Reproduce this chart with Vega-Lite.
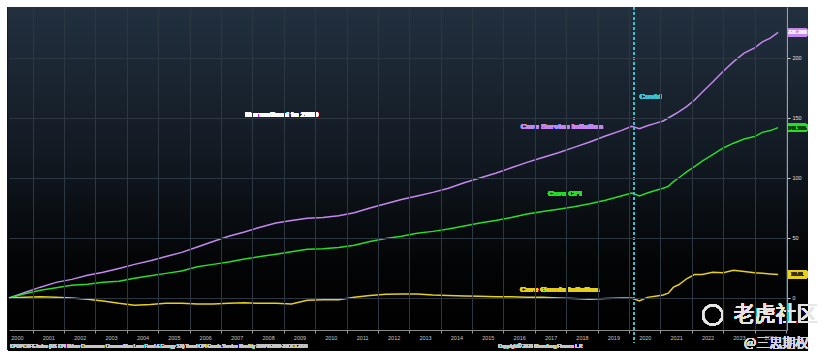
{
  "$schema": "https://vega.github.io/schema/vega-lite/v6.json",
  "width": 778,
  "height": 323,
  "autosize": "none",
  "padding": {"left": 9, "top": 7, "right": 43, "bottom": 34},
  "background": "white",
  "config": {"view": {"stroke": null}, "font": "Liberation Sans"},
  "data": {"values": [
    {"d": "2000-04-01", "svc": 0, "cpi": 0, "goods": 0},
    {"d": "2000-10-01", "svc": 4.5, "cpi": 3.5, "goods": 0.5},
    {"d": "2001-04-01", "svc": 9, "cpi": 6.5, "goods": 1},
    {"d": "2001-10-01", "svc": 13, "cpi": 8.5, "goods": 0.5},
    {"d": "2002-04-01", "svc": 15.5, "cpi": 10.5, "goods": 0},
    {"d": "2002-10-01", "svc": 19, "cpi": 11.5, "goods": -1},
    {"d": "2003-04-01", "svc": 21.5, "cpi": 13, "goods": -2.5},
    {"d": "2003-10-01", "svc": 24.5, "cpi": 14, "goods": -4.5},
    {"d": "2004-04-01", "svc": 28, "cpi": 16.5, "goods": -6},
    {"d": "2004-10-01", "svc": 31, "cpi": 18.5, "goods": -5.5},
    {"d": "2005-04-01", "svc": 34.5, "cpi": 20.5, "goods": -4.5},
    {"d": "2005-10-01", "svc": 38, "cpi": 22.5, "goods": -4.5},
    {"d": "2006-04-01", "svc": 42.5, "cpi": 26, "goods": -5},
    {"d": "2006-10-01", "svc": 47, "cpi": 28, "goods": -5},
    {"d": "2007-04-01", "svc": 51.5, "cpi": 30, "goods": -4.5},
    {"d": "2007-10-01", "svc": 55, "cpi": 32.5, "goods": -4},
    {"d": "2008-04-01", "svc": 59, "cpi": 34.5, "goods": -4.5},
    {"d": "2008-10-01", "svc": 62.5, "cpi": 36.5, "goods": -4.5},
    {"d": "2009-04-01", "svc": 64.5, "cpi": 38.5, "goods": -5},
    {"d": "2009-10-01", "svc": 66.5, "cpi": 40.5, "goods": -2},
    {"d": "2010-04-01", "svc": 67, "cpi": 41, "goods": -1.5},
    {"d": "2010-10-01", "svc": 68.5, "cpi": 42, "goods": -1.5},
    {"d": "2011-04-01", "svc": 71, "cpi": 44, "goods": 0.5},
    {"d": "2011-10-01", "svc": 75, "cpi": 47, "goods": 2},
    {"d": "2012-04-01", "svc": 78.5, "cpi": 49.5, "goods": 3},
    {"d": "2012-10-01", "svc": 82, "cpi": 51.5, "goods": 3.3},
    {"d": "2013-04-01", "svc": 85, "cpi": 54, "goods": 3.3},
    {"d": "2013-10-01", "svc": 88, "cpi": 55.5, "goods": 2.5},
    {"d": "2014-04-01", "svc": 91.5, "cpi": 57.5, "goods": 2},
    {"d": "2014-10-01", "svc": 96, "cpi": 60, "goods": 1.7},
    {"d": "2015-04-01", "svc": 100, "cpi": 62.5, "goods": 1.5},
    {"d": "2015-10-01", "svc": 104, "cpi": 64.5, "goods": 1},
    {"d": "2016-04-01", "svc": 108.5, "cpi": 67, "goods": 1},
    {"d": "2016-10-01", "svc": 113, "cpi": 70, "goods": 0.5},
    {"d": "2017-04-01", "svc": 117, "cpi": 72, "goods": 0.5},
    {"d": "2017-10-01", "svc": 121, "cpi": 74, "goods": 0},
    {"d": "2018-04-01", "svc": 125.5, "cpi": 76, "goods": -0.5},
    {"d": "2018-10-01", "svc": 130, "cpi": 78.5, "goods": -1},
    {"d": "2019-04-01", "svc": 135, "cpi": 81.5, "goods": -0.5},
    {"d": "2019-10-01", "svc": 139.5, "cpi": 85, "goods": 0},
    {"d": "2020-02-01", "svc": 143, "cpi": 87.5, "goods": 0},
    {"d": "2020-05-01", "svc": 141, "cpi": 85, "goods": -2.5},
    {"d": "2020-08-01", "svc": 143.5, "cpi": 87.5, "goods": 0.5},
    {"d": "2020-11-01", "svc": 145.5, "cpi": 89.5, "goods": 1.5},
    {"d": "2021-02-01", "svc": 147.5, "cpi": 91.5, "goods": 2.5},
    {"d": "2021-04-01", "svc": 150, "cpi": 93, "goods": 4},
    {"d": "2021-06-01", "svc": 152.5, "cpi": 97, "goods": 9},
    {"d": "2021-08-01", "svc": 155, "cpi": 100, "goods": 11},
    {"d": "2021-11-01", "svc": 159.5, "cpi": 105, "goods": 16},
    {"d": "2022-02-01", "svc": 165, "cpi": 109.5, "goods": 19.5},
    {"d": "2022-05-01", "svc": 171.5, "cpi": 114, "goods": 19.5},
    {"d": "2022-09-01", "svc": 180, "cpi": 119.5, "goods": 21.5},
    {"d": "2023-01-01", "svc": 189, "cpi": 125, "goods": 21},
    {"d": "2023-05-01", "svc": 197, "cpi": 129, "goods": 23},
    {"d": "2023-09-01", "svc": 204, "cpi": 132.5, "goods": 22},
    {"d": "2024-01-01", "svc": 208.5, "cpi": 134.5, "goods": 21},
    {"d": "2024-04-01", "svc": 213.5, "cpi": 138, "goods": 20.5},
    {"d": "2024-07-01", "svc": 216.5, "cpi": 139.5, "goods": 20},
    {"d": "2024-10-01", "svc": 221.288, "cpi": 141.966, "goods": 19.61}
  ]},
  "layer": [
    {
      "mark": {"type": "rect", "color": "#000000"},
      "encoding": {
        "x": {"datum": {"year": 2000, "month": 3, "date": 20, "utc": true}, "type": "temporal",
          "scale": {"type": "utc", "domain": [{"year": 2000, "month": 4, "date": 1, "utc": true}, {"year": 2025, "month": 1, "date": 12, "utc": true}]},
          "axis": {"orient": "bottom", "zindex": 1, "tickCount": {"interval": "year", "step": 1}, "labelExpr": "'' + (utcyear(datum.value) - 1)", "labelOffset": -15.7, "labelAlign": "center", "labelFontSize": 5.5, "labelColor": "#c8c8c8", "labelPadding": 2, "tickSize": 3, "tickColor": "#9a9a9a", "domainColor": "#8a8a8a", "grid": true, "gridColor": "#2c3742", "gridWidth": 1, "title": null, "labelOverlap": false, "labelFlush": false}},
        "x2": {"datum": {"year": 2025, "month": 9, "date": 10, "utc": true}},
        "y": {"datum": 242.5, "type": "quantitative",
          "scale": {"domain": [-26.7, 242.5], "nice": false, "zero": false},
          "axis": {"orient": "right", "zindex": 1, "values": [0, 50, 100, 150, 200], "labelFontSize": 5.5, "labelColor": "#e0e0e0", "labelPadding": 2, "tickSize": 3, "tickColor": "#cfcfcf", "domainColor": "#9aa0a6", "grid": true, "gridColor": "#2c3742", "gridWidth": 1, "title": null}},
        "y2": {"datum": -44}
      }
    },
    {
      "mark": {"type": "rect", "color": {"gradient": "linear", "x1": 0, "y1": 0, "x2": 0, "y2": 1, "stops": [
        {"offset": 0, "color": "#22303f"},
        {"offset": 0.45, "color": "#121a23"},
        {"offset": 0.8, "color": "#030405"},
        {"offset": 1, "color": "#000000"}]}},
      "encoding": {
        "x": {"datum": {"year": 2000, "month": 3, "date": 20, "utc": true}, "type": "temporal"},
        "x2": {"datum": {"year": 2025, "month": 9, "date": 10, "utc": true}},
        "y": {"datum": 242.5, "type": "quantitative"},
        "y2": {"datum": -26.7}
      }
    },
    {
      "mark": {"type": "line", "color": "#c488ee", "strokeWidth": 1.5},
      "encoding": {"x": {"field": "d", "type": "temporal"}, "y": {"field": "svc", "type": "quantitative"}}
    },
    {
      "mark": {"type": "line", "color": "#2bdc2b", "strokeWidth": 1.5},
      "encoding": {"x": {"field": "d", "type": "temporal"}, "y": {"field": "cpi", "type": "quantitative"}}
    },
    {
      "mark": {"type": "line", "color": "#e6cf1e", "strokeWidth": 1.5},
      "encoding": {"x": {"field": "d", "type": "temporal"}, "y": {"field": "goods", "type": "quantitative"}}
    },
    {
      "mark": {"type": "rule", "stroke": "#3cc3cc", "strokeWidth": 1.5, "strokeDash": [3, 2]},
      "encoding": {"x": {"datum": {"year": 2020, "month": 3, "date": 1, "utc": true}, "type": "temporal"}, "y": {"datum": 242.5, "type": "quantitative"}, "y2": {"datum": -37}}
    },
    {
      "mark": {"type": "text", "color": "#3cc3cc", "fontWeight": "bold", "fontSize": 8, "align": "left"},
      "encoding": {"x": {"datum": {"year": 2020, "month": 5, "date": 1, "utc": true}, "type": "temporal"}, "y": {"datum": 167.5, "type": "quantitative"}, "text": {"value": "Covid"}}
    },
    {
      "mark": {"type": "text", "color": "#ffffff", "fontWeight": "bold", "fontSize": 8, "align": "center"},
      "encoding": {"x": {"datum": {"year": 2008, "month": 12, "date": 10, "utc": true}, "type": "temporal"}, "y": {"datum": 152.5, "type": "quantitative"}, "text": {"value": "Normalised to 2000"}}
    },
    {
      "mark": {"type": "text", "color": "#c488ee", "fontWeight": "bold", "fontSize": 8, "align": "center"},
      "encoding": {"x": {"datum": {"year": 2017, "month": 11, "date": 10, "utc": true}, "type": "temporal"}, "y": {"datum": 142.5, "type": "quantitative"}, "text": {"value": "Core Service Inflation"}}
    },
    {
      "mark": {"type": "text", "color": "#2bdc2b", "fontWeight": "bold", "fontSize": 8, "align": "center"},
      "encoding": {"x": {"datum": {"year": 2017, "month": 12, "date": 15, "utc": true}, "type": "temporal"}, "y": {"datum": 86.7, "type": "quantitative"}, "text": {"value": "Core CPI"}}
    },
    {
      "mark": {"type": "text", "color": "#e6cf1e", "fontWeight": "bold", "fontSize": 8, "align": "center"},
      "encoding": {"x": {"datum": {"year": 2017, "month": 10, "date": 15, "utc": true}, "type": "temporal"}, "y": {"datum": 6.7, "type": "quantitative"}, "text": {"value": "Core Goods Inflation"}}
    },
    {
      "mark": {"type": "rect", "color": "#c488ee", "cornerRadius": 3},
      "encoding": {"x": {"datum": {"year": 2025, "month": 1, "date": 12, "utc": true}, "type": "temporal"}, "x2": {"datum": {"year": 2025, "month": 9, "date": 10, "utc": true}}, "y": {"datum": 224.8, "type": "quantitative"}, "y2": {"datum": 217.8}}
    },
    {
      "mark": {"type": "rect", "color": "#2bdc2b", "cornerRadius": 3},
      "encoding": {"x": {"datum": {"year": 2025, "month": 1, "date": 12, "utc": true}, "type": "temporal"}, "x2": {"datum": {"year": 2025, "month": 9, "date": 10, "utc": true}}, "y": {"datum": 145.5, "type": "quantitative"}, "y2": {"datum": 138.5}}
    },
    {
      "mark": {"type": "rect", "color": "#e6cf1e", "cornerRadius": 3},
      "encoding": {"x": {"datum": {"year": 2025, "month": 1, "date": 12, "utc": true}, "type": "temporal"}, "x2": {"datum": {"year": 2025, "month": 9, "date": 10, "utc": true}}, "y": {"datum": 23.1, "type": "quantitative"}, "y2": {"datum": 16.1}}
    },
    {
      "mark": {"type": "text", "color": "#f4e8ff", "fontSize": 5, "align": "center", "baseline": "middle"},
      "encoding": {"x": {"datum": {"year": 2025, "month": 5, "date": 10, "utc": true}, "type": "temporal"}, "y": {"datum": 221.3, "type": "quantitative"}, "text": {"value": "221.288"}}
    },
    {
      "mark": {"type": "text", "color": "#0b4a0b", "fontSize": 5, "align": "center", "baseline": "middle"},
      "encoding": {"x": {"datum": {"year": 2025, "month": 5, "date": 10, "utc": true}, "type": "temporal"}, "y": {"datum": 142, "type": "quantitative"}, "text": {"value": "141.966"}}
    },
    {
      "mark": {"type": "text", "color": "#3a3000", "fontSize": 5, "align": "center", "baseline": "middle"},
      "encoding": {"x": {"datum": {"year": 2025, "month": 5, "date": 10, "utc": true}, "type": "temporal"}, "y": {"datum": 19.6, "type": "quantitative"}, "text": {"value": "19.61"}}
    },
    {
      "mark": {"type": "text", "color": "#c8c8c8", "fontSize": 4.6, "align": "left", "baseline": "middle"},
      "encoding": {"x": {"datum": {"year": 2000, "month": 4, "date": 15, "utc": true}, "type": "temporal"}, "y": {"datum": -40.8, "type": "quantitative"}, "text": {"value": "CPUPCXFE Index (US CPI Urban Consumers Commodities Less Food & Energy SA) Trend CPI Goods Service  Monthly 30APR2000-31OCT2024"}}
    },
    {
      "mark": {"type": "text", "color": "#c8c8c8", "fontSize": 4.6, "align": "left", "baseline": "middle"},
      "encoding": {"x": {"datum": {"year": 2015, "month": 11, "date": 1, "utc": true}, "type": "temporal"}, "y": {"datum": -40.8, "type": "quantitative"}, "text": {"value": "Copyright© 2024 Bloomberg Finance L.P."}}
    },
    {
      "mark": {"type": "point", "shape": "circle", "filled": false, "stroke": "#e6e6e6", "strokeWidth": 2, "size": 380, "opacity": 0.85},
      "encoding": {"x": {"datum": {"year": 2022, "month": 9, "date": 1, "utc": true}, "type": "temporal"}, "y": {"datum": -14.2, "type": "quantitative"}}
    },
    {
      "mark": {"type": "text", "color": "#e6e6e6", "opacity": 0.9, "fontSize": 21, "align": "left", "baseline": "middle", "font": "Noto Sans CJK SC"},
      "encoding": {"x": {"datum": {"year": 2023, "month": 5, "date": 1, "utc": true}, "type": "temporal"}, "y": {"datum": -14.2, "type": "quantitative"}, "text": {"value": "老虎社区"}}
    },
    {
      "mark": {"type": "text", "color": "#d8d8d8", "opacity": 0.95, "fontSize": 13, "align": "left", "baseline": "middle", "font": "Noto Sans CJK SC"},
      "encoding": {"x": {"datum": {"year": 2023, "month": 9, "date": 1, "utc": true}, "type": "temporal"}, "y": {"datum": -37.5, "type": "quantitative"}, "text": {"value": "@三思期权"}}
    }
  ]
}
